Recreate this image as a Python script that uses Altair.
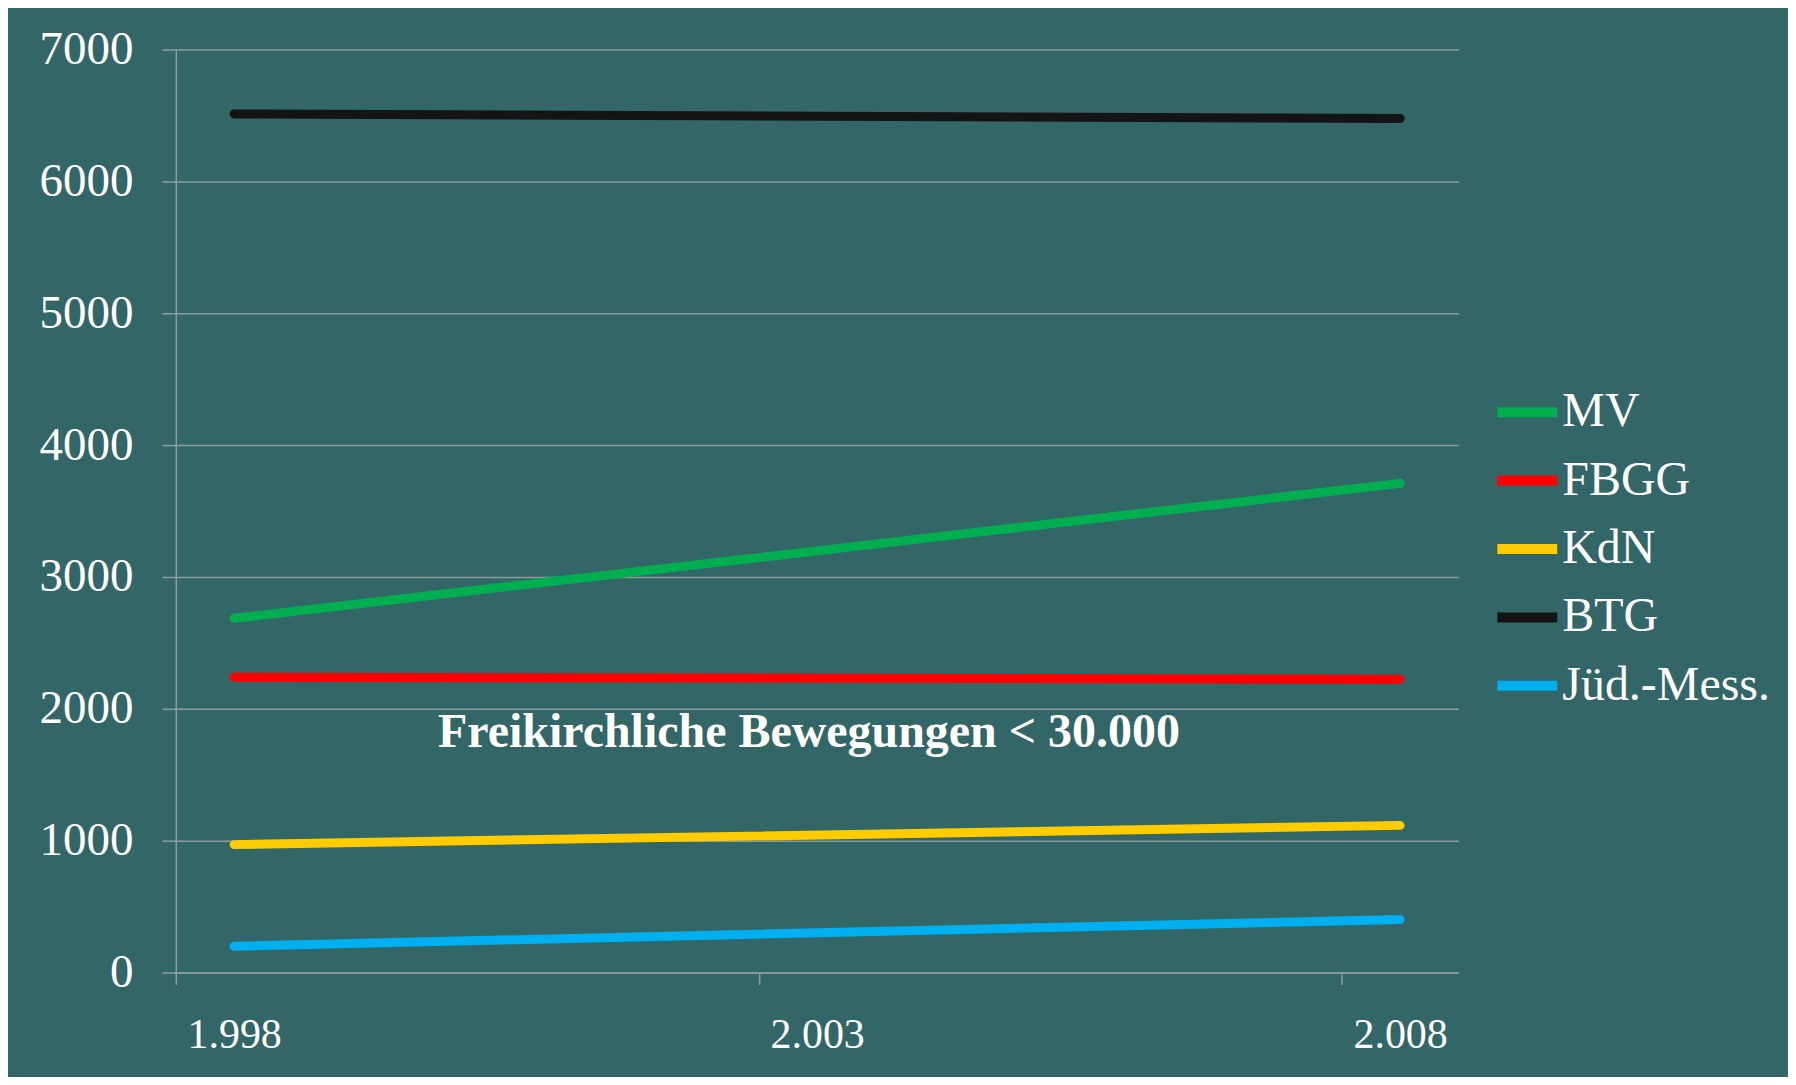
import altair as alt
import pandas as pd

# ---- data ----
series = ["MV", "FBGG", "KdN", "BTG", "Jüd.-Mess."]
colors = ["#00B050", "#FF0000", "#FFCC00", "#141414", "#00B0F0"]
years = [1998, 2008]
mv = [2687, 3710]
fbgg = [2240, 2225]
kdn = [970, 1116]
btg = [6512, 6477]
jud = [200, 402]

y_ticks = [0, 1000, 2000, 3000, 4000, 5000, 6000, 7000]
x_tick_bounds = [1997.5, 2002.5, 2007.5]

annot_text = ["Freikirchliche Bewegungen < 30.000"]
annot_year = [2002.93]
annot_value = [1820]

# ---- tables ----
rows = []
for name, vals in zip(series, [mv, fbgg, kdn, btg, jud]):
    for yr, v in zip(years, vals):
        rows.append({"series": name, "year": yr, "value": v})
df = pd.DataFrame(rows)
annot_df = pd.DataFrame({"year": annot_year, "value": annot_value, "text": annot_text})

FONT = "Liberation Serif"
GRAY = "#8d9d9d"

x_enc = alt.X(
    "year:Q",
    scale=alt.Scale(domain=[1997.5, 2008.5], nice=False, zero=False),
    axis=alt.Axis(
        values=x_tick_bounds,
        labelExpr="replace(format(datum.value + 0.5, ','), ',', '.')",
        labelOffset=58.4,
        labelFlush=False,
        labelOverlap=False,
        tickSize=12,
        grid=False,
        title=None,
        labelFontSize=42,
        labelPadding=30,
    ),
)
y_enc = alt.Y(
    "value:Q",
    scale=alt.Scale(domain=[0, 7000], nice=False),
    axis=alt.Axis(
        values=y_ticks,
        format="d",
        tickSize=14,
        labelPadding=29,
        labelFontSize=47,
        labelFlush=False,
        title=None,
        grid=True,
    ),
)

lines = alt.Chart(df).mark_line(strokeWidth=9, strokeCap="round").encode(
    x=x_enc,
    y=y_enc,
    color=alt.Color(
        "series:N",
        scale=alt.Scale(domain=series, range=colors),
        sort=series,
        legend=alt.Legend(
            title=None,
            orient="none",
            legendX=1318,
            legendY=328,
            symbolType="stroke",
            symbolSize=3600,
            symbolStrokeWidth=10,
            symbolOpacity=1,
            labelFontSize=48,
            labelFont=FONT,
            labelColor="white",
            labelOffset=0,
            labelLimit=0,
            rowPadding=9.5,
            padding=0,
        ),
    ),
)

text = alt.Chart(annot_df).mark_text(
    font=FONT, fontSize=48, fontWeight="bold", color="white"
).encode(x="year:Q", y="value:Q", text="text:N")

chart = (
    alt.layer(lines, text)
    .properties(
        width=1284,
        height=924,
        padding={"left": 168, "top": 41, "right": 330, "bottom": 104},
        autosize=alt.AutoSizeParams(type="none"),
        background="#336666",
    )
    .configure_view(stroke=None)
    .configure_axis(
        domainColor=GRAY,
        tickColor=GRAY,
        gridColor=GRAY,
        domainWidth=1.5,
        tickWidth=1.5,
        gridWidth=1.5,
        labelFont=FONT,
        labelColor="white",
    )
)

chart.save("out.html", embed_options={"renderer": "svg", "actions": False})
